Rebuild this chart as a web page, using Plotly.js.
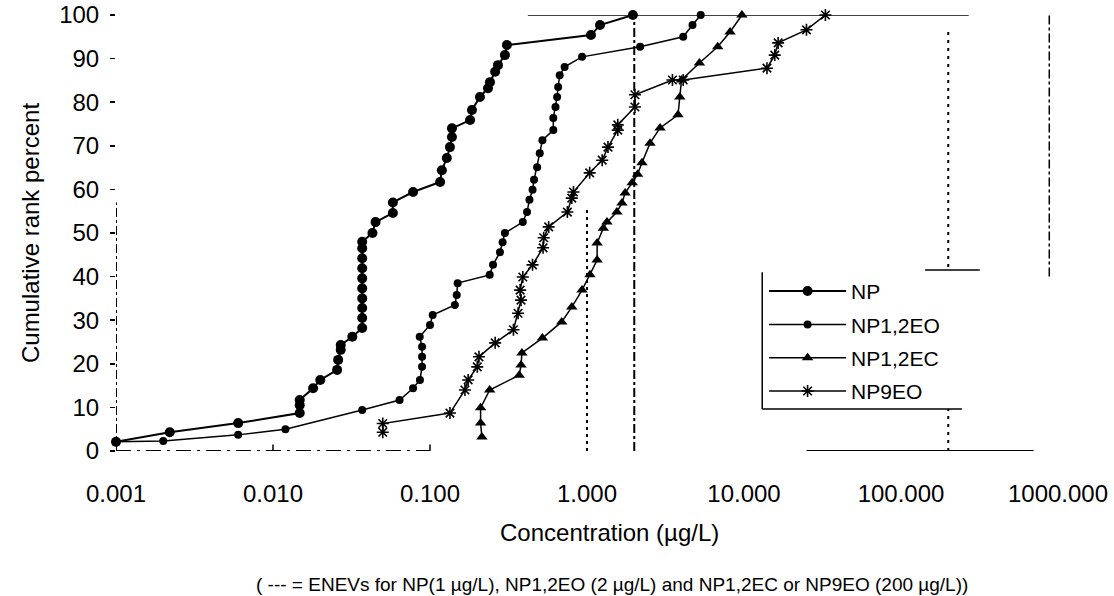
<!DOCTYPE html>
<html>
<head>
<meta charset="utf-8">
<script src="https://cdn.plot.ly/plotly-3.0.1.min.js"></script>
<style>html,body{margin:0;padding:0;background:#fff;}#chart{width:1114px;height:596px;}</style>
</head>
<body>
<div id="chart"></div>
<script>
// ---- data (concentration in µg/L, cumulative rank percent) ----
const seriesNames = ["NP", "NP1,2EO", "NP1,2EC", "NP9EO"];

const npX = [0.001, 0.0022, 0.006, 0.0148, 0.0148, 0.0148, 0.018, 0.020, 0.0256, 0.026, 0.027, 0.027, 0.032,
  0.037, 0.037, 0.037, 0.037, 0.037, 0.037, 0.037, 0.037, 0.037, 0.037, 0.043, 0.045, 0.058, 0.058, 0.078,
  0.116, 0.119, 0.128, 0.134, 0.138, 0.138, 0.18, 0.185, 0.208, 0.234, 0.241, 0.26, 0.271, 0.30, 0.309,
  1.06, 1.21, 1.96];
const npY = [2.1, 4.3, 6.4, 8.7, 10.5, 11.7, 14.4, 16.3, 18.6, 20.9, 23.2, 24.3, 26.2,
  28.2, 30.5, 32.8, 35.0, 37.3, 39.6, 41.9, 44.2, 46.5, 48.0, 50.0, 52.5, 54.6, 57.0, 59.4,
  61.7, 64.4, 67.2, 69.7, 72.0, 74.0, 75.9, 78.2, 81.2, 83.2, 84.6, 87.0, 88.5, 90.8, 93.1,
  95.4, 97.7, 100];

const eo12X = [0.001, 0.002, 0.006, 0.012, 0.037, 0.064, 0.078, 0.0863, 0.089, 0.089, 0.089, 0.086, 0.10, 0.104,
  0.144, 0.148, 0.15, 0.24, 0.252, 0.279, 0.29, 0.30, 0.39, 0.415, 0.43, 0.45, 0.46, 0.481, 0.50, 0.52,
  0.61, 0.61, 0.63, 0.645, 0.655, 0.67, 0.72, 0.93, 2.18, 4.1, 4.7, 5.3];
const eo12Y = [2.1, 2.3, 3.7, 5.0, 9.4, 11.7, 14.4, 16.3, 19.3, 21.6, 23.9, 26.2, 28.9, 31.2,
  33.5, 35.8, 38.5, 40.4, 42.7, 45.6, 47.9, 50.0, 52.5, 54.8, 57.6, 59.9, 62.2, 65.1, 68.3, 71.3,
  73.6, 76.4, 78.9, 81.2, 83.5, 86.2, 88.1, 90.4, 92.7, 95.0, 97.7, 100];

const ec12X = [0.214, 0.21, 0.21, 0.24, 0.37, 0.38, 0.385, 0.52, 0.69, 0.80, 0.93, 1.045, 1.16, 1.16, 1.27, 1.34,
  1.55, 1.67, 1.75, 1.94, 2.1, 2.24, 2.52, 2.92, 3.8, 3.9, 4.0, 5.2, 6.8, 8.15, 9.7];
const ec12Y = [3.2, 6.4, 9.9, 14.0, 17.4, 19.7, 22.5, 25.9, 29.6, 33.0, 36.9, 40.4, 43.8, 47.7, 51.1, 52.5,
  54.8, 56.9, 59.2, 61.5, 63.5, 66.1, 70.6, 74.1, 77.1, 81.2, 85.1, 89.0, 92.7, 96.1, 100];

const eo9X = [0.05, 0.05, 0.134, 0.167, 0.175, 0.20, 0.205, 0.26, 0.34, 0.364, 0.38, 0.375, 0.39, 0.45, 0.525,
  0.53, 0.57, 0.75, 0.80, 0.82, 1.04, 1.25, 1.36, 1.57, 1.57, 2.02, 2.02, 3.5, 4.1, 14, 15.7, 16.5, 25, 33];
const eo9Y = [4.3, 6.3, 8.7, 14.0, 16.3, 19.3, 21.6, 24.8, 27.8, 31.6, 34.6, 36.9, 39.9, 42.7, 46.6,
  48.9, 51.4, 54.8, 58.0, 59.4, 63.8, 66.7, 69.7, 73.6, 74.8, 78.9, 81.7, 85.1, 85.1, 87.8, 90.8, 93.6, 96.6, 100];

// ENEV reference values (µg/L) and how high each dotted line reaches in the reference
const enevX = [1, 2, 200];
const enevTop = [56, 100, 97];

const xTickVals = [0.001, 0.01, 0.1, 1, 10, 100, 1000];
const xTickText = ["0.001", "0.010", "0.100", "1.000", "10.000", "100.000", "1000.000"];
const yTickVals = [0, 10, 20, 30, 40, 50, 60, 70, 80, 90, 100];

const xTitle = "Concentration (µg/L)";
const yTitle = "Cumulative rank percent";
const footnote = "( --- = ENEVs for NP(1 µg/L), NP1,2EO (2 µg/L) and NP1,2EC or NP9EO (200 µg/L))";

// ---- drawing ----
const FONT = "Liberation Sans, Arial, Helvetica, sans-serif";
const markerStyles = [
  {symbol: "circle", size: 10, color: "#000"},
  {symbol: "circle", size: 8, color: "#000"},
  {symbol: "triangle-up", size: 10, color: "#000"},
  {symbol: "asterisk-open", size: 10, color: "#000", line: {color: "#000", width: 1.6}}
];
const xs = [npX, eo12X, ec12X, eo9X];
const ys = [npY, eo12Y, ec12Y, eo9Y];

const traces = seriesNames.map((name, i) => ({
  type: "scatter",
  mode: "lines+markers",
  name: name,
  legendgroup: "g" + i,
  x: xs[i],
  y: ys[i],
  cliponaxis: false,
  line: {color: "#000", width: i === 0 ? 2 : 1.5},
  marker: markerStyles[i]
}));

const dashes = ["3px,4px", "dashdot", "3px,5px"];
const shapes = enevX.map((v, i) => ({
  type: "line", xref: "x", yref: "y",
  x0: v, x1: v, y0: 0, y1: enevTop[i],
  line: {color: "#000", width: 2, dash: dashes[i]}
}));

// broken frame pieces as seen in the scanned reference
shapes.push(
  {type: "line", xref: "x", yref: "y", x0: 0.001, x1: 0.001, y0: 0, y1: 57, line: {color: "#000", width: 2, dash: "dashdot"}},
  {type: "line", xref: "x", yref: "y", x0: 0.001, x1: 0.1, y0: 0, y1: 0, line: {color: "#000", width: 2, dash: "longdashdot"}},
  {type: "line", xref: "x", yref: "y", x0: 0.01, x1: 0.01, y0: -1.5, y1: 1.5, line: {color: "#000", width: 1.5}},
  {type: "line", xref: "x", yref: "y", x0: 0.1, x1: 0.1, y0: -1.5, y1: 1.5, line: {color: "#000", width: 1.5}},
  {type: "line", xref: "x", yref: "y", x0: 25, x1: 700, y0: 0, y1: 0, line: {color: "#000", width: 2}},
  {type: "line", xref: "x", yref: "y", x0: 0.42, x1: 270, y0: 100, y1: 100, line: {color: "#000", width: 1.5}},
  {type: "line", xref: "x", yref: "y", x0: 880, x1: 880, y0: 40, y1: 100, line: {color: "#000", width: 1.5, dash: "dashdot"}}
);
// legend panel: white background, then left, bottom and part of top edge
shapes.push(
  {type: "rect", xref: "paper", yref: "paper", x0: 0.686, x1: 0.917, y0: 0.0963, y1: 0.415, fillcolor: "#fff", line: {width: 0}, layer: "above"},
  {type: "line", xref: "paper", yref: "paper", x0: 0.686, x1: 0.686, y0: 0.0963, y1: 0.41, line: {color: "#000", width: 1.5}, layer: "above"},
  {type: "line", xref: "paper", yref: "paper", x0: 0.686, x1: 0.898, y0: 0.0963, y1: 0.0963, line: {color: "#000", width: 1.5}, layer: "above"},
  {type: "line", xref: "paper", yref: "paper", x0: 0.859, x1: 0.917, y0: 0.415, y1: 0.415, line: {color: "#000", width: 1.5}, layer: "above"}
);

const layout = {
  width: 1114, height: 596,
  margin: {l: 116, r: 56, t: 15, b: 145, pad: 0},
  paper_bgcolor: "#fff", plot_bgcolor: "#fff",
  font: {family: FONT, color: "#000", size: 22},
  showlegend: true,
  legend: {
    x: 0.688, y: 0.413, xanchor: "left", yanchor: "top",
    bgcolor: "rgba(0,0,0,0)", borderwidth: 0,
    font: {family: FONT, size: 21, color: "#000"},
    itemwidth: 77, tracegroupgap: 3
  },
  xaxis: {
    type: "log", range: [-3, 3],
    tickvals: xTickVals, ticktext: xTickText,
    showline: false, showgrid: false, zeroline: false, ticks: "",
    tickfont: {family: FONT, size: 24, color: "#000"},
    ticklabelstandoff: 26
  },
  yaxis: {
    range: [0, 100], tickvals: yTickVals,
    showline: false, showgrid: false, zeroline: false,
    ticks: "outside", ticklen: 5, tickwidth: 1.5, tickcolor: "#000",
    tickfont: {family: FONT, size: 24, color: "#000"},
    ticklabelstandoff: 6,
    title: {text: yTitle, font: {family: FONT, size: 24, color: "#000"}, standoff: 12}
  },
  shapes: shapes,
  annotations: [
    {text: xTitle, xref: "paper", yref: "paper", x: 0.524, y: -0.186, xanchor: "center", yanchor: "middle",
     showarrow: false, font: {family: FONT, size: 24, color: "#000"}},
    {text: footnote, xref: "paper", yref: "paper", x: 0.527, y: -0.307, xanchor: "center", yanchor: "middle",
     showarrow: false, font: {family: FONT, size: 19, color: "#000"}}
  ]
};

Plotly.newPlot("chart", traces, layout, {staticPlot: true, displayModeBar: false});
</script>
</body>
</html>
